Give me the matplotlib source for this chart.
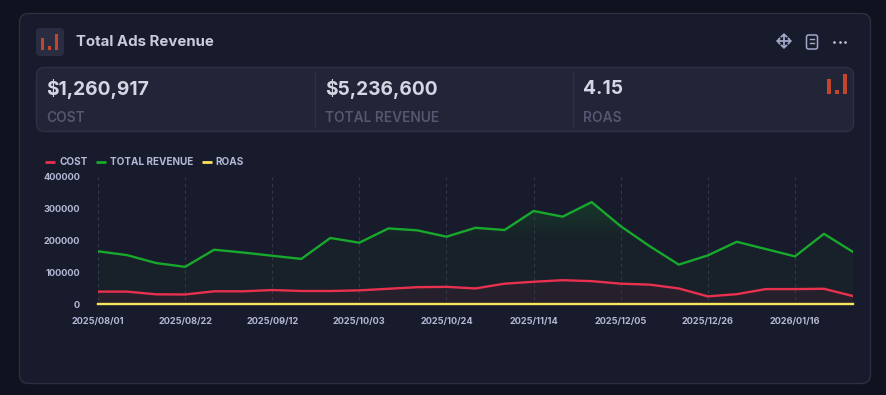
import numpy as np
from matplotlib import pyplot as plt
from matplotlib.colors import LinearSegmentedColormap
from matplotlib.patches import FancyBboxPatch, Rectangle
from matplotlib.lines import Line2D

plt.rcParams['font.family'] = ['Inter', 'DejaVu Sans']

dates = ["2025/08/01","2025/08/08","2025/08/15","2025/08/22","2025/08/29","2025/09/05","2025/09/12",
         "2025/09/19","2025/09/26","2025/10/03","2025/10/10","2025/10/17","2025/10/24","2025/10/31",
         "2025/11/07","2025/11/14","2025/11/21","2025/11/28","2025/12/05","2025/12/12","2025/12/19",
         "2025/12/26","2026/01/02","2026/01/09","2026/01/16","2026/01/23","2026/01/30"]
cost = [39000,39000,30500,30000,40000,40000,44000,41000,41000,43000,48000,53000,54000,49000,
        64000,70000,75000,72000,64000,61000,49000,24000,31000,47000,47000,48000,25000]
revenue = [166000,154000,129000,117000,171000,162000,152000,142000,208000,193000,238000,232000,212000,240000,
           233000,293000,275000,321000,245000,182000,124000,153000,196000,173000,150000,221000,164000]
roas = [4.3,3.9,4.2,3.9,4.3,4.0,3.5,3.5,5.1,4.5,5.0,4.4,3.9,4.9,
        3.6,4.2,3.7,4.5,3.8,3.0,2.5,6.4,6.3,3.7,3.2,4.6,6.6]
yticks = [0,100000,200000,300000,400000]
kpi_values = ["$1,260,917","$5,236,600","4.15"]
kpi_labels = ["COST","TOTAL REVENUE","ROAS"]
kpi_x = [46.5,325.5,583.5]

W,H = 886,395
fig = plt.figure(figsize=(W/100,H/100),dpi=100,facecolor='#10121f')

# page furniture, drawn in pixel coordinates
bg = fig.add_axes([0,0,1,1])
bg.set_xlim(0,W)
bg.set_ylim(H,0)
bg.axis('off')

def box(x0,y0,x1,y1,r,fc,ec='none',lw=1):
    bg.add_patch(FancyBboxPatch((x0+r,y0+r),x1-x0-2*r,y1-y0-2*r,boxstyle="round,pad=%g,rounding_size=%g"%(r,r),
                                fc=fc,ec=ec,lw=lw))

def bars(x,bottom,w=3.6):
    for left,top in x:
        bg.add_patch(Rectangle((left,top),w,bottom-top,fc='#c2462c',ec='none'))

box(19.5,13.5,870.5,383.5,9,'#181b2b','#2c2f41')
box(36,28,64,56,4,'#2a2d41')
bars([(41.5,37.5),(48.5,46),(55.5,34)],50,3)
bg.text(76,41.5,"Total Ads Revenue",color='#c9cbdc',fontsize=10.8,fontweight='bold',va='center')

box(36.5,67.5,853.5,131.5,8,'#222537','#2e3144')
for x in [315.5,573.5]:
    bg.plot([x,x],[72,127],color='#2f3245',lw=1)
for x,v,l in zip(kpi_x,kpi_values,kpi_labels):
    bg.text(x,89,v,color='#d4d6e4',fontsize=13.8,fontweight='bold',va='center')
    bg.text(x,117.5,l,color='#54576f',fontsize=9.9,fontweight='semibold',va='center')
bars([(827,79),(835,90),(843,74)],94,3.8)

# header icons
ic = '#a3a8c8'
bg.plot([784,784],[35,47],color=ic,lw=1.3)
bg.plot([778,790],[41,41],color=ic,lw=1.3)
for a,b,c,d in [(781.5,36.5,784,34.5),(786.5,36.5,784,34.5),(781.5,45.5,784,47.5),(786.5,45.5,784,47.5),
                (779.5,38.5,777.5,41),(779.5,43.5,777.5,41),(788.5,38.5,790.5,41),(788.5,43.5,790.5,41)]:
    bg.plot([a,c],[b,d],color=ic,lw=1.3)
box(806.5,35,817.5,49,2,'none',ic,1.1)
bg.plot([810,814.5],[38.5,38.5],color=ic,lw=1)
bg.plot([810,814.5],[42.5,42.5],color=ic,lw=1)
bg.plot([834.5,840,845.5],[42,42,42],ls='none',marker='o',ms=1.9,color='#c4c7dc',mew=0)

# chart
left,right,top,bottom = 98,853,177,304
ax = fig.add_axes([left/W,1-bottom/H,(right-left)/W,(bottom-top)/H])
ax.patch.set_alpha(0)
x = np.arange(len(dates))
ymax = 400000

def gradient(vals,c0,c1):
    poly = ax.fill_between(x,vals,0,color='none')
    cmap = LinearSegmentedColormap.from_list('g',[c1,c1,c0])
    im = ax.imshow(np.linspace(1,0,128).reshape(-1,1),extent=(0,len(x)-1,0,ymax),aspect='auto',cmap=cmap,
                   vmin=0,vmax=1,zorder=1.5)
    im.set_clip_path(poly.get_paths()[0],transform=ax.transData)

gradient(revenue,'#16482a','#182029')
gradient(cost,'#261f2c','#261f2c')

l1, = ax.plot(x,cost,color='#e8304f',lw=1.7,zorder=3,solid_joinstyle='round',label="COST")
l2, = ax.plot(x,revenue,color='#17a82c',lw=1.7,zorder=3,solid_joinstyle='round',label="TOTAL REVENUE")
l3, = ax.plot(x,roas,color='#f7e65a',lw=1.7,zorder=4,clip_on=False,label="ROAS")

ax.set_xlim(0,len(x)-1)
ax.set_ylim(0,ymax)
for s in ax.spines.values():
    s.set_visible(False)
ax.set_xticks(x[::3])
ax.set_xticklabels(dates[::3])
ax.set_yticks(yticks)
ax.tick_params(length=0,labelcolor='#b4b8d6',labelsize=6.6)
ax.tick_params(axis='x',pad=9.5)
ax.tick_params(axis='y',pad=13)
for t in ax.get_xticklabels()+ax.get_yticklabels():
    t.set_fontweight('bold')
for i in x[::3]:
    ax.plot([i,i],[12000,ymax],color='#34374b',lw=0.8,ls=(0,(3,3)),zorder=2)

handles = [Line2D([],[],color=h.get_color(),lw=2,solid_capstyle='butt') for h in (l1,l2,l3)]
leg = fig.legend(handles,[h.get_label() for h in (l1,l2,l3)],loc='center left',bbox_to_anchor=(45/W,1-162/H),
                 frameon=False,ncol=3,fontsize=7.2,labelcolor='#b4b8d6',handlelength=1.0,handletextpad=0.4,
                 columnspacing=0.85,borderpad=0,borderaxespad=0)
for t in leg.get_texts():
    t.set_fontweight('bold')

fig.savefig('out.png',dpi=100,facecolor=fig.get_facecolor())
